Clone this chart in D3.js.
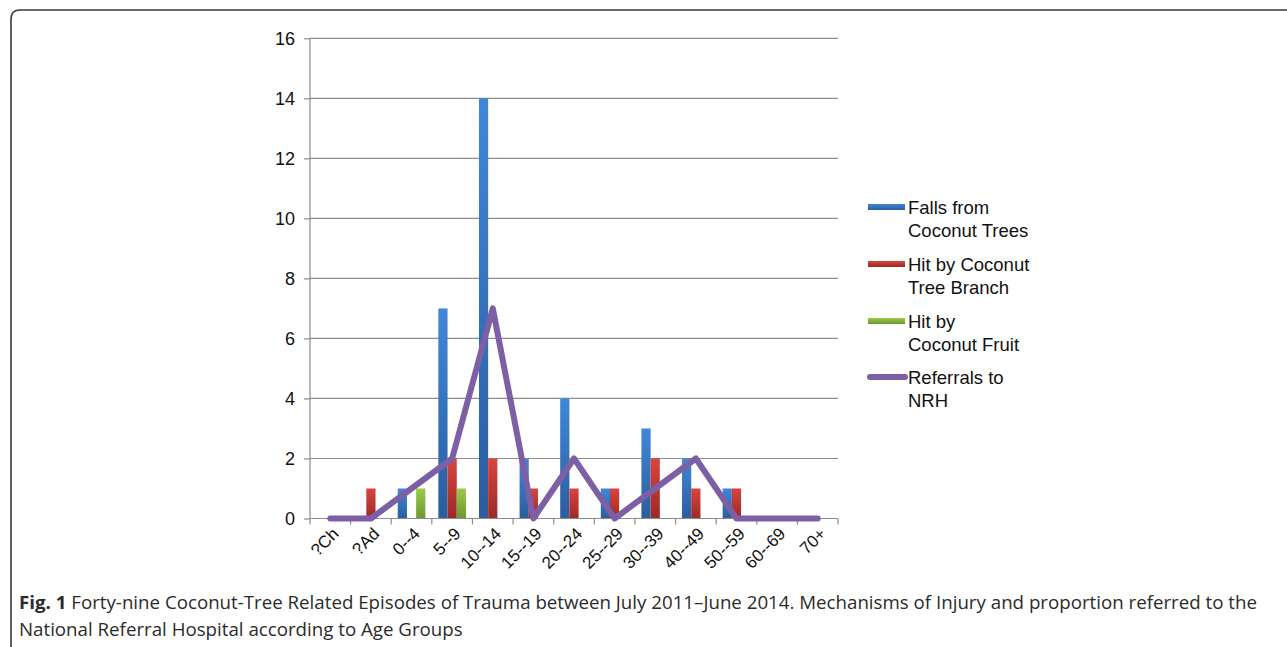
<!DOCTYPE html>
<html>
<head>
<meta charset="utf-8">
<script src="https://cdn.jsdelivr.net/npm/d3@7/dist/d3.min.js"></script>
<style>
  html, body { margin: 0; padding: 0; background: #fff; }
  svg { display: block; }
</style>
</head>
<body>
<svg id="chart" width="1287" height="647"></svg>
<script>
// Age groups along the x axis
const ageGroups = ["?Ch", "?Ad", "0--4", "5--9", "10--14", "15--19", "20--24", "25--29", "30--39", "40--49", "50--59", "60--69", "70+"];

// Episodes per mechanism of injury
const fallsFromTrees = [0, 0, 1, 7, 14, 2, 4, 1, 3, 2, 1, 0, 0];
const hitByBranch    = [0, 1, 0, 2, 2, 1, 1, 1, 2, 1, 1, 0, 0];
const hitByFruit     = [0, 0, 1, 1, 0, 0, 0, 0, 0, 0, 0, 0, 0];

// Patients referred to the National Referral Hospital
const referralsNRH   = [0, 0, 1, 2, 7, 0, 2, 0, 1, 2, 0, 0, 0];

// Y axis ticks
const yTicks = [0, 2, 4, 6, 8, 10, 12, 14, 16];

const barSeries = [
  { key: "falls",  lines: ["Falls from", "Coconut Trees"],     values: fallsFromTrees, top: "#4187d8", bottom: "#2a5d9f" },
  { key: "branch", lines: ["Hit by Coconut", "Tree Branch"],   values: hitByBranch,    top: "#d9443f", bottom: "#9b2a28" },
  { key: "fruit",  lines: ["Hit by", "Coconut Fruit"],         values: hitByFruit,     top: "#9bcb4a", bottom: "#6e9630" }
];
const lineSeries = { lines: ["Referrals to", "NRH"], values: referralsNRH, color: "#7d5fa5" };

const svg = d3.select("#chart");
const font = "'Liberation Sans', Arial, Helvetica, sans-serif";

// Figure frame (rounded top-left corner, open to the right and bottom)
svg.append("path")
  .attr("d", "M11,647 L11,19 Q11,10 20,10 L1287,10")
  .attr("fill", "none")
  .attr("stroke", "#3a3a3a")
  .attr("stroke-width", 1.6);

const plot = { left: 310, right: 838, top: 38.3, bottom: 518.5 };

const x0 = d3.scaleBand().domain(ageGroups).range([plot.left, plot.right]).padding(0);
const bw = x0.bandwidth();
const x1 = d3.scaleBand().domain(barSeries.map(s => s.key)).range([bw * 0.16, bw * 0.84]).padding(0);
const y = d3.scaleLinear().domain([0, 16]).range([plot.bottom, plot.top]);

// Gradients for the bar fills
const defs = svg.append("defs");
barSeries.forEach(s => {
  const g = defs.append("linearGradient").attr("id", "grad-" + s.key)
    .attr("x1", 0).attr("y1", 0).attr("x2", 0).attr("y2", 1);
  g.append("stop").attr("offset", "0%").attr("stop-color", s.top);
  g.append("stop").attr("offset", "100%").attr("stop-color", s.bottom);
});

// Horizontal gridlines
svg.append("g")
  .selectAll("line")
  .data(yTicks.filter(t => t > 0))
  .join("line")
  .attr("x1", plot.left).attr("x2", plot.right)
  .attr("y1", d => y(d)).attr("y2", d => y(d))
  .attr("stroke", "#8c8c8c").attr("stroke-width", 1.2);

// Y axis
const yAxis = svg.append("g")
  .attr("transform", `translate(${plot.left},0)`)
  .call(d3.axisLeft(y).tickValues(yTicks).tickSize(6).tickPadding(9).tickFormat(d3.format("d")));
yAxis.select(".domain").attr("stroke", "#8c8c8c").attr("stroke-width", 1.2).attr("d", `M0,${plot.bottom}V${plot.top}`);
yAxis.selectAll(".tick line").attr("stroke", "#8c8c8c").attr("stroke-width", 1.2);
yAxis.selectAll(".tick text").attr("font-family", font).attr("font-size", 18).attr("fill", "#111");

// Bars
const groups = svg.append("g")
  .selectAll("g")
  .data(ageGroups.map((g, i) => ({ group: g, i })))
  .join("g")
  .attr("transform", d => `translate(${x0(d.group)},0)`);

groups.selectAll("rect")
  .data(d => barSeries.map(s => ({ key: s.key, value: s.values[d.i] })))
  .join("rect")
  .attr("x", d => x1(d.key))
  .attr("width", x1.bandwidth())
  .attr("y", d => y(d.value))
  .attr("height", d => y(0) - y(d.value))
  .attr("fill", d => `url(#grad-${d.key})`);

// X axis with ticks at the category boundaries
const xAxis = svg.append("g").attr("transform", `translate(0,${plot.bottom})`);
xAxis.append("line")
  .attr("x1", plot.left).attr("x2", plot.right)
  .attr("stroke", "#8c8c8c").attr("stroke-width", 1.2);
const boundaries = ageGroups.map(g => x0(g)).concat([plot.right]);
xAxis.selectAll("line.bound")
  .data(boundaries)
  .join("line")
  .attr("class", "bound")
  .attr("x1", d => d).attr("x2", d => d)
  .attr("y1", 0).attr("y2", 6)
  .attr("stroke", "#8c8c8c").attr("stroke-width", 1.2);
xAxis.selectAll("text")
  .data(ageGroups)
  .join("text")
  .attr("transform", d => `translate(${x0(d) + bw / 2 + 1},${8}) rotate(-45)`)
  .attr("text-anchor", "end")
  .attr("dy", "0.7em")
  .attr("font-family", font)
  .attr("font-size", 17)
  .attr("fill", "#111")
  .text(d => d);

// Referral line
const line = d3.line()
  .x((d, i) => x0(ageGroups[i]) + bw / 2)
  .y(d => y(d));
svg.append("path")
  .datum(lineSeries.values)
  .attr("d", line)
  .attr("fill", "none")
  .attr("stroke", lineSeries.color)
  .attr("stroke-width", 6)
  .attr("stroke-linejoin", "round")
  .attr("stroke-linecap", "round");

// Legend
const legend = svg.append("g").attr("transform", "translate(868,0)");
const legendItems = barSeries.map(s => ({ lines: s.lines, type: "bar", key: s.key }))
  .concat([{ lines: lineSeries.lines, type: "line" }]);
const legendTop = [207, 264, 321, 377];
legendItems.forEach((item, i) => {
  const g = legend.append("g").attr("transform", `translate(0,${legendTop[i]})`);
  if (item.type === "bar") {
    g.append("rect").attr("x", 0).attr("y", -3).attr("width", 37).attr("height", 6)
      .attr("fill", `url(#grad-${item.key})`);
  } else {
    g.append("line").attr("x1", 2).attr("x2", 37).attr("y1", 0).attr("y2", 0)
      .attr("stroke", lineSeries.color).attr("stroke-width", 6).attr("stroke-linecap", "round");
  }
  const t = g.append("text").attr("x", 40).attr("y", 7)
    .attr("font-family", font).attr("font-size", 18.5).attr("fill", "#111");
  item.lines.forEach((ln, j) => {
    t.append("tspan").attr("x", 40).attr("dy", j === 0 ? 0 : 23).text(ln);
  });
});

// Caption
const capFont = "'Open Sans', 'Noto Sans', sans-serif";
const cap = svg.append("g").attr("fill", "#2b2b2b").attr("font-family", capFont).attr("font-size", 18.5);
const cap1 = cap.append("text").attr("x", 19).attr("y", 609);
cap1.append("tspan").attr("font-weight", "bold").text("Fig. 1");
cap1.append("tspan").attr("font-weight", 400).text(" Forty-nine Coconut-Tree Related Episodes of Trauma between July 2011\u2013June 2014. Mechanisms of Injury and proportion referred to the");
const cap2 = cap.append("text").attr("x", 19).attr("y", 636).attr("font-weight", 400)
  .text("National Referral Hospital according to Age Groups");
const w1 = cap1.node().getComputedTextLength();
const sx = 1239 / w1;
[cap1, cap2].forEach(t => {
  const yy = +t.attr("y");
  t.attr("x", 0).attr("y", 0).attr("transform", `translate(19,${yy}) scale(${sx},1)`);
});
</script>
</body>
</html>
